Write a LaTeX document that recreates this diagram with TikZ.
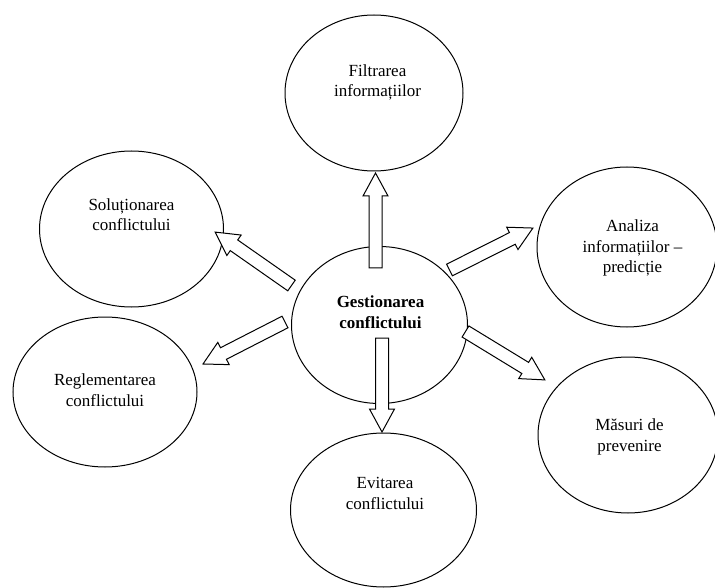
\documentclass[tikz,border=0pt]{standalone}
\usepackage{fontspec}
\setmainfont{Liberation Serif}
\usetikzlibrary{shapes.geometric,calc}
\newcommand\fatw{6.5}
\newcommand\fathw{12.5}
\newcommand\fath{23}
\newcommand\fatarrow[2]{%
  \pgfpointdiff{\pgfpointanchor{#1}{center}}{\pgfpointanchor{#2}{center}}%
  \pgfgetlastxy\fatdx\fatdy
  \pgfmathsetmacro\fatang{atan2(\fatdy,\fatdx)}%
  \pgfmathsetmacro\fatlen{veclen(\fatdx,\fatdy)}%
  \draw[fatarrowline, shift={(#1)}, rotate=\fatang]
    (0,-\fatw) -- (\fatlen-\fath,-\fatw) -- (\fatlen-\fath,-\fathw) -- (\fatlen,0)
    -- (\fatlen-\fath,\fathw) -- (\fatlen-\fath,\fatw) -- (0,\fatw) -- cycle;
}
\begin{document}
\begin{tikzpicture}[x=1pt,y=-1pt,
  ell/.style={draw, ellipse, line width=1pt, inner sep=0pt},
  txt/.style={align=center, inner sep=0pt, font=\fontsize{17}{20.5}\selectfont},
  fatarrowline/.style={draw, fill=white, line width=1pt, line join=miter}]
\useasboundingbox (0,0) rectangle (715,588);
\fill[white] (0,0) rectangle (715,588);
\clip (0,0) rectangle (715,588);

% ellipses
\node[ell, minimum width=178pt, minimum height=156pt] (filt) at (374,93) {};
\node[ell, minimum width=176pt, minimum height=157pt] (gest) at (379.5,325) {};
\node[ell, minimum width=184pt, minimum height=156pt] (solu) at (131.5,229) {};
\node[ell, minimum width=180pt, minimum height=160pt] (anal) at (627,247) {};
\node[ell, minimum width=184pt, minimum height=150pt] (regl) at (105,392) {};
\node[ell, minimum width=186pt, minimum height=154pt] (evit) at (383.5,510) {};
\node[ell, minimum width=180pt, minimum height=156pt] (masu) at (628,435) {};

% texts
\node[txt] (filtT) at (377.5,82.5) {Filtrarea\\informațiilor};
\node[txt, font=\fontsize{17}{20.5}\selectfont\bfseries] (gestT) at (380.5,312) {Gestionarea\\conflictului};
\node[txt] (soluT) at (131.5,214.5) {Soluționarea\\conflictului};
\node[txt] (analT) at (632.5,248) {Analiza\\informațiilor –\\predicție};
\node[txt] (reglT) at (105,390) {Reglementarea\\conflictului};
\node[txt] (evitT) at (385,493.5) {Evitarea\\conflictului};
\node[txt] (masuT) at (629.5,437) {Măsuri de\\prevenire};

% arrow ends
\coordinate (a1s) at (375.5,268);  \coordinate (a1e) at (375.5,173);
\coordinate (a2s) at (382,338);    \coordinate (a2e) at (382,432);
\coordinate (a3s) at (291.5,285.5); \coordinate (a3e) at (215,232);
\coordinate (a4s) at (285,322);    \coordinate (a4e) at (203,364);
\coordinate (a5s) at (449.5,270);  \coordinate (a5e) at (533,228);
\coordinate (a6s) at (465.5,331.5); \coordinate (a6e) at (545,380);

\fatarrow{a1s}{a1e}
\fatarrow{a2s}{a2e}
\fatarrow{a3s}{a3e}
\fatarrow{a4s}{a4e}
\fatarrow{a5s}{a5e}
\fatarrow{a6s}{a6e}
\end{tikzpicture}
\end{document}
